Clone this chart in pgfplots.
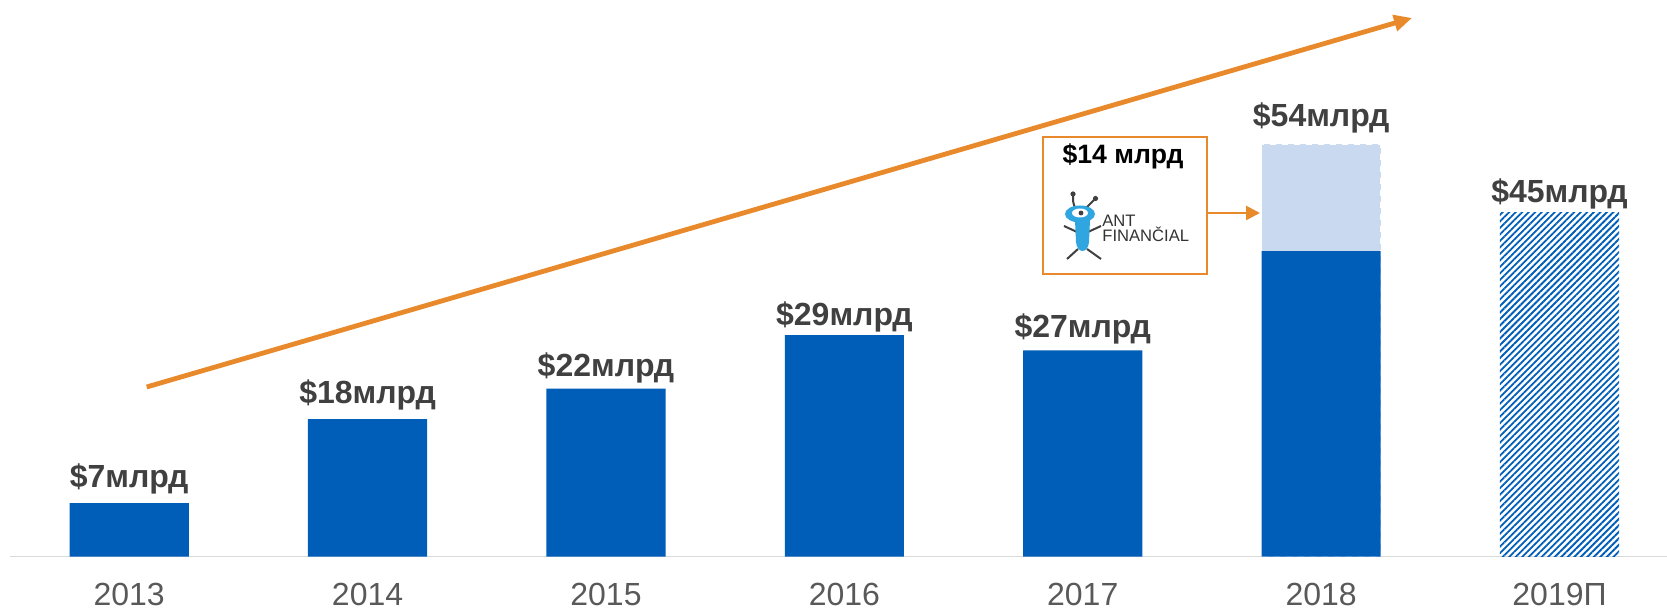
\documentclass[border=0pt]{standalone}
\usepackage{pgfplots}
\pgfplotsset{compat=1.18}
\usepackage{fontspec}
\setmainfont{Liberation Sans}
\usetikzlibrary{arrows.meta,patterns.meta}
\definecolor{barblue}{HTML}{005EB8}
\definecolor{lightbar}{HTML}{C9D9EF}
\definecolor{orng}{HTML}{E8892B}
\definecolor{lbl}{HTML}{404040}
\definecolor{tickc}{HTML}{595959}
\definecolor{antblue}{HTML}{2FA6E0}
\definecolor{gline}{HTML}{D9D9D9}
\begin{document}
\begin{tikzpicture}
\useasboundingbox (-5pt,-26.15pt) rectangle (828.5pt,278.35pt);
\begin{axis}[
  at={(0pt,0pt)}, anchor=south west,
  scale only axis, width=828.4pt, height=278.35pt,
  xmin=-0.5, xmax=6.45, ymin=0, ymax=72.87,
  axis y line=none,
  axis x line*=bottom,
  x axis line style={-, draw=gline, line width=0.8pt},
  xtick={0,1,2,3,4,5,6},
  xticklabels={2013,2014,2015,2016,2017,2018,2019П},
  xtick style={draw=none},
  major tick length=0pt,
  xticklabel style={font=\fontsize{16}{19}\selectfont, text=tickc, yshift=-9.5pt},
  clip=false,
]
\addplot[ybar, bar width=0.5, bar shift=0pt, fill=lightbar, draw=white, dashed, line width=0.8pt] coordinates {(5,54)};
\addplot[ybar, bar width=0.5, bar shift=0pt, fill=barblue, draw=none] coordinates {(0,7) (1,18) (2,22) (3,29) (4,27) (5,40)};
\addplot[ybar, bar width=0.5, bar shift=0pt, draw=none, pattern={Lines[angle=45,distance=2.3pt,line width=0.9pt]}, pattern color=barblue] coordinates {(6,45)};
\addplot[draw=none, mark=none, nodes near coords, point meta=explicit symbolic,
  every node near coord/.append style={anchor=base, inner sep=0pt, font=\bfseries\fontsize{16}{19}\selectfont, text=lbl}]
  coordinates {(0,9.0) [\$7млрд] (1,20.1) [\$18млрд] (2,23.6) [\$22млрд] (3,30.2) [\$29млрд] (4,28.75) [\$27млрд] (5,56.35) [\$54млрд] (6,46.35) [\$45млрд]};
\end{axis}
\begin{scope}[shift={(-5pt,278.35pt)}, x=0.5pt, y=-0.5pt]
  \draw[orng, line width=2.4pt, -{Triangle[length=9pt,width=8pt]}] (146.7,387) -- (1412,18);
  \draw[orng, line width=1pt, fill=white] (1043,137) rectangle (1207,274);
  \node[anchor=base, inner sep=0pt, font=\bfseries\fontsize{13.3}{16}\selectfont] at (1123,164) {\$14 млрд};
  \draw[orng, line width=1.3pt, -{Triangle[length=7pt,width=7pt]}] (1207,213) -- (1260,213);
  % ant logo
  \draw[black!75, line width=1pt] (1075,208) .. controls (1073,202) .. (1073,195);
  \fill[black!75] (1073,194) circle [radius=2.6];
  \draw[black!75, line width=1pt] (1086,208) -- (1095,199);
  \fill[black!75] (1095.5,198.5) circle [radius=2.6];
  \draw[black!75, line width=1pt] (1077,232) -- (1064,226) (1088,232) -- (1101,226)
       (1078,249) -- (1067,259) (1087,249) -- (1101,259);
  \fill[antblue] (1075,220) -- (1090,220) -- (1089,242) .. controls (1088,254) and (1077,254) .. (1076,242) -- cycle;
  \fill[antblue] (1080,214) ellipse [x radius=15, y radius=8.5];
  \fill[white] (1080,213) ellipse [x radius=8, y radius=4.5];
  \fill[black!75] (1081,213) circle [radius=2.4];
  \node[anchor=base west, inner sep=0pt, font=\fontsize{8.3}{9}\selectfont, text=black!80] at (1102,226.7) {ANT};
  \node[anchor=base west, inner sep=0pt, font=\fontsize{8.3}{9}\selectfont, text=black!80] at (1102,241.7) {FINANČIAL};
\end{scope}
\end{tikzpicture}
\end{document}
